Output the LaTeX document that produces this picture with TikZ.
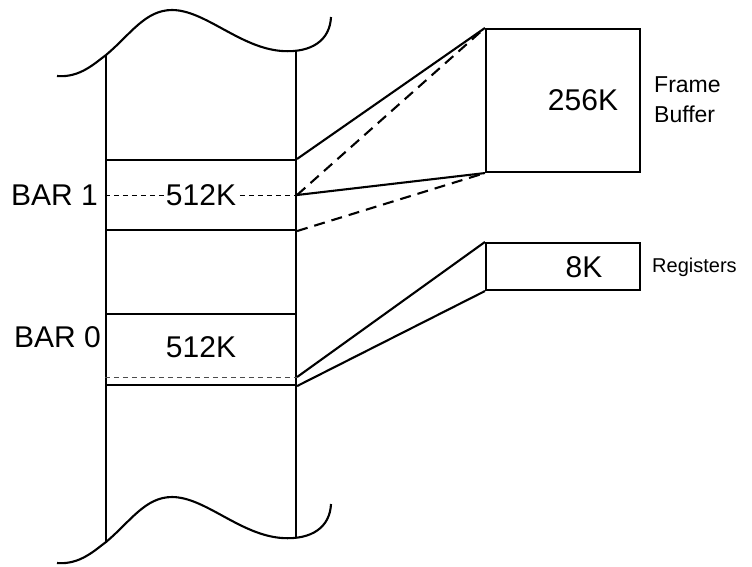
\documentclass[tikz,border=0pt]{standalone}
\usepackage{fontspec}
\setmainfont{Liberation Sans}
\usetikzlibrary{positioning,calc}

\begin{document}
\begin{tikzpicture}[
    x=1pt, y=-1pt,
    wall/.style={line width=2.1pt},
    region/.style={rectangle, draw=black, line width=2.1pt, inner sep=0pt,
                   minimum width=190pt},
    device/.style={rectangle, draw=black, line width=2.1pt, inner sep=0pt,
                   minimum width=154pt},
    sizelbl/.style={font=\fontsize{30}{32}\selectfont, inner sep=1pt},
    barlbl/.style={font=\fontsize{30}{32}\selectfont, anchor=east, inner sep=2pt},
    tag/.style={font=\fontsize{23}{30}\selectfont, align=left, anchor=west, inner sep=3pt},
    link/.style={line width=2.1pt},
    linkdash/.style={line width=2.1pt, dash pattern=on 11pt off 7pt},
    guide/.style={line width=0.9pt, dash pattern=on 5pt off 4pt}
]
\useasboundingbox (0,0) rectangle (752,566);

% memory column, torn top and bottom
\foreach \dy in {0,487} {
  \begin{scope}[shift={(0,\dy)}]
    \draw[wall] (57,76) .. controls (80,78) and (95,63) .. (106,55)
                .. controls (130,35) and (145,10) .. (172,10)
                .. controls (205,10) and (240,48) .. (282,51)
                .. controls (312,53) and (330,40) .. (331,17);
  \end{scope}
}
\coordinate (ctl) at (106,55);
\coordinate (ctr) at (296,51);
\coordinate (cbl) at (106,542);
\coordinate (cbr) at (296,538);
\draw[wall] (ctl) -- (cbl);
\draw[wall] (ctr) -- (cbr);

% BAR regions
\node[region, minimum height=70pt] (bar1) at (201,195) {};
\node[region, minimum height=71pt] (bar0) at (201,349.5) {};
\coordinate (b0dl) at ($(bar0.south west)+(0,-9)$);
\coordinate (b0dr) at ($(bar0.south east)+(0,-9)$);
\draw[guide] (bar1.west) -- (bar1.east);
\draw[guide, black!70] (b0dl) -- (b0dr);
\node[sizelbl, fill=white] (s1) at (bar1.center) {512K};
\node[sizelbl] (s0) at (201,347) {512K};
\node[barlbl] (l1) at (100,195) {BAR 1};
\node[barlbl] (l0) at (103,337) {BAR 0};

% devices
\node[device, minimum height=143pt] (fb) at (563,100.5) {};
\node[device, minimum height=47pt] (reg) at (563,266.5) {};
\node[sizelbl] (fbsize) at (583,100) {256K};
\node[sizelbl] (regsize) at (584,267) {8K};
\node[tag] (fbtag) at (651,100) {Frame\\Buffer};
\node[tag, font=\fontsize{20}{24}\selectfont] (regtag) at (649,267) {Registers};

% mappings
\draw[link] (bar1.north east) -- (fb.north west);
\draw[linkdash] (bar1.east) -- (fb.north west);
\draw[link] (bar1.east) -- (fb.south west);
\draw[linkdash] (bar1.south east) -- (fb.south west);
\draw[link] (b0dr) -- (reg.north west);
\draw[link] (bar0.south east) -- (reg.south west);
\end{tikzpicture}
\end{document}
